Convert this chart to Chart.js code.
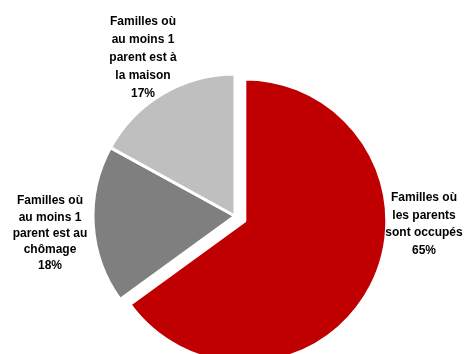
<!DOCTYPE html>
<html>
<head>
<meta charset="utf-8">
<script src="https://cdn.jsdelivr.net/npm/chart.js@4"></script>
<style>
html,body{margin:0;padding:0;background:#fff;}
#wrap{width:466px;height:354px;position:relative;}
</style>
</head>
<body>
<div id="wrap"><canvas id="c" width="466" height="354"></canvas></div>
<script>
const categories = [
  "Familles où les parents sont occupés",
  "Familles où au moins 1 parent est au chômage",
  "Familles où au moins 1 parent est à la maison"
];
const values = [65, 18, 17];
const percentLabels = ["65%", "18%", "17%"];
const labelLines = [
  ["Familles où", "les parents", "sont occupés", "65%"],
  ["Familles où", "au moins 1", "parent est au", "chômage", "18%"],
  ["Familles où", "au moins 1", "parent est à", "la maison", "17%"]
];
const colors = ["#C00000", "#7F7F7F", "#BFBFBF"];

const explodePlugin = {
  id: 'explode',
  afterDatasetsUpdate(chart) {
    const arc = chart.getDatasetMeta(0).data[0];
    const half = (arc.startAngle + arc.endAngle) / 2;
    const d = 11;
    arc.x += Math.cos(half) * d;
    arc.y += Math.sin(half) * d;
  }
};

const labelPos = [
  {x: 424, y: 198, lh: 17.5},
  {x: 50, y: 201, lh: 16.2},
  {x: 143, y: 22, lh: 17.8}
];

const labelPlugin = {
  id: 'labels',
  afterDraw(chart) {
    const ctx = chart.ctx;
    ctx.save();
    ctx.fillStyle = '#000';
    ctx.font = 'bold 12px "Liberation Sans", Arial, sans-serif';
    ctx.textAlign = 'center';
    ctx.textBaseline = 'middle';
    labelLines.forEach((lines, i) => {
      const p = labelPos[i];
      lines.forEach((t, j) => ctx.fillText(t, p.x, p.y + j * p.lh));
    });
    ctx.restore();
  }
};

new Chart(document.getElementById('c'), {
  type: 'pie',
  data: {
    labels: categories,
    datasets: [{
      data: values,
      backgroundColor: colors,
      borderColor: '#ffffff',
      borderWidth: 3,
      clip: false
    }]
  },
  options: {
    responsive: false,
    animation: false,
    radius: 142,
    layout: {padding: {left: 4, right: 0, top: 78, bottom: 0}},
    plugins: {
      legend: {display: false},
      tooltip: {enabled: false}
    }
  },
  plugins: [explodePlugin, labelPlugin]
});
</script>
</body>
</html>
